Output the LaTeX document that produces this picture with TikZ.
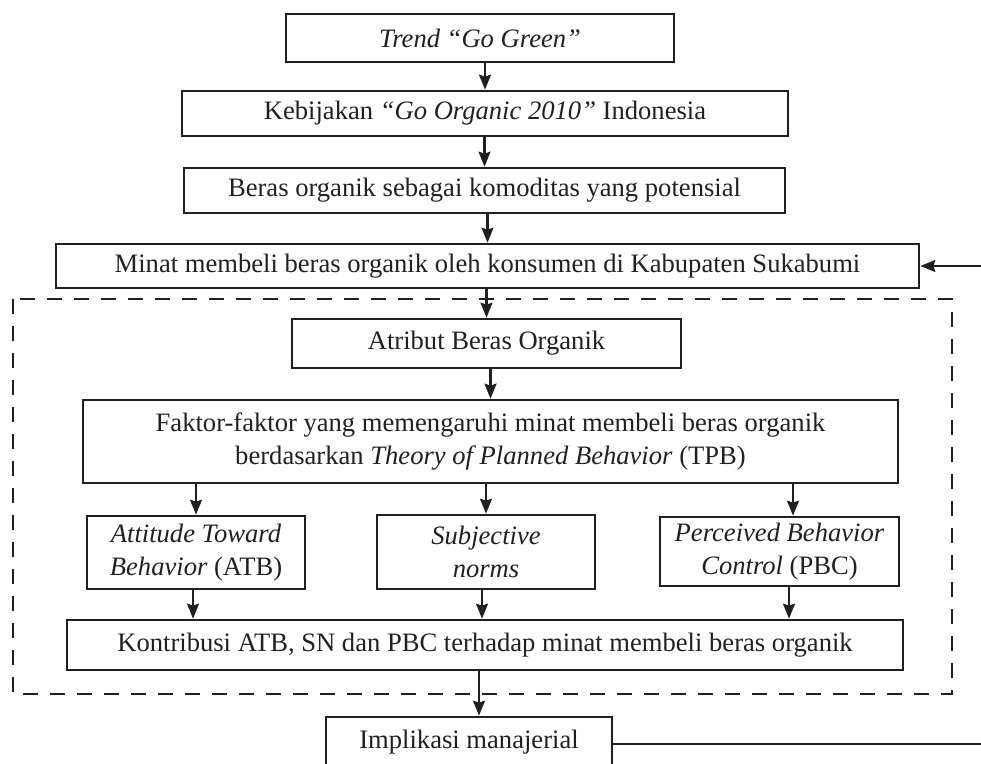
\documentclass[tikz,border=0pt]{standalone}
\usepackage{fontspec}
\setmainfont{Liberation Serif}
\usetikzlibrary{arrows.meta}
\definecolor{ink}{HTML}{231F20}
\begin{document}
\begin{tikzpicture}[x=1pt,y=-1pt,
  box/.style={draw=ink, line width=2.7pt, text=ink, align=center, inner sep=0pt,
    font=\fontsize{26.6}{33}\selectfont},
  arr/.style={draw=ink, line width=2.1pt, -{Stealth[length=15pt,width=12pt,inset=2pt]}},
  frame/.style={draw=ink, line width=2.6pt, dash pattern=on 15pt off 12pt}
]
\useasboundingbox (0,0) rectangle (981,763);
\clip (0,0) rectangle (981,763);

\node[box, minimum width=388pt, minimum height=48pt] (trend) at (480,38) {\textit{Trend “Go Green”}};
\node[box, minimum width=606pt, minimum height=45pt] (kebijakan) at (485,113.5) {Kebijakan \textit{“Go Organic 2010”} Indonesia};
\node[box, minimum width=601pt, minimum height=45pt] (beras) at (484.5,190.5) {Beras organik sebagai komoditas yang potensial};
\node[box, minimum width=863pt, minimum height=44pt] (minat) at (487.5,266) {Minat membeli beras organik oleh konsumen di Kabupaten Sukabumi};

\draw[frame] (13,299) rectangle (952,694);

\node[box, minimum width=389pt, minimum height=49pt] (atribut) at (486.5,343.5) {Atribut Beras Organik};
\node[box, minimum width=815pt, minimum height=83pt] (faktor) at (490.5,441.5) {Faktor-faktor yang memengaruhi minat membeli beras organik\\ berdasarkan \textit{Theory of Planned Behavior} (TPB)};
\node[box, minimum width=218pt, minimum height=73pt] (atb) at (196,552.5) {\textit{Attitude Toward}\\ \textit{Behavior} (ATB)};
\node[box, minimum width=218pt, minimum height=74pt] (sn) at (486,552) {\textit{Subjective}\\ \textit{norms}};
\node[box, minimum width=239pt, minimum height=69pt] (pbc) at (779.5,551.5) {\textit{Perceived Behavior}\\ \textit{Control} (PBC)};
\node[box, minimum width=836pt, minimum height=50pt] (kontribusi) at (485,645) {Kontribusi ATB, SN dan PBC terhadap minat membeli beras organik};
\node[box, minimum width=286pt, minimum height=50pt] (implikasi) at (469,742) {Implikasi manajerial};

\draw[arr] (trend.south -| kebijakan) -- (kebijakan.north);
\draw[arr] (kebijakan.south -| beras) -- (beras.north);
\draw[arr] (beras.south -| minat) -- (minat.north);
\draw[arr] (minat.south -| atribut) -- (atribut.north);
\draw[arr] (atribut.south -| faktor) -- (faktor.north);
\draw[arr] (faktor.south -| atb) -- (atb.north);
\draw[arr] (faktor.south -| sn) -- (sn.north);
\draw[arr] ([xshift=13.5pt]pbc.north |- faktor.south) -- ([xshift=13.5pt]pbc.north);
\draw[arr] ([xshift=-3pt]atb.south) -- ([xshift=-3pt]atb.south |- kontribusi.north);
\draw[arr] ([xshift=-4pt]sn.south) -- ([xshift=-4pt]sn.south |- kontribusi.north);
\draw[arr] ([xshift=9.5pt]pbc.south) -- ([xshift=9.5pt]pbc.south |- kontribusi.north);
\draw[arr] ([xshift=-6pt]kontribusi.south) -- ([xshift=-6pt]kontribusi.south |- implikasi.north);

\coordinate (loopB) at (990,744);
\coordinate (loopT) at (990,266);
\draw[arr] (implikasi.east |- loopB) -- (loopB) -- (loopT) -- (minat.east);
\end{tikzpicture}
\end{document}
